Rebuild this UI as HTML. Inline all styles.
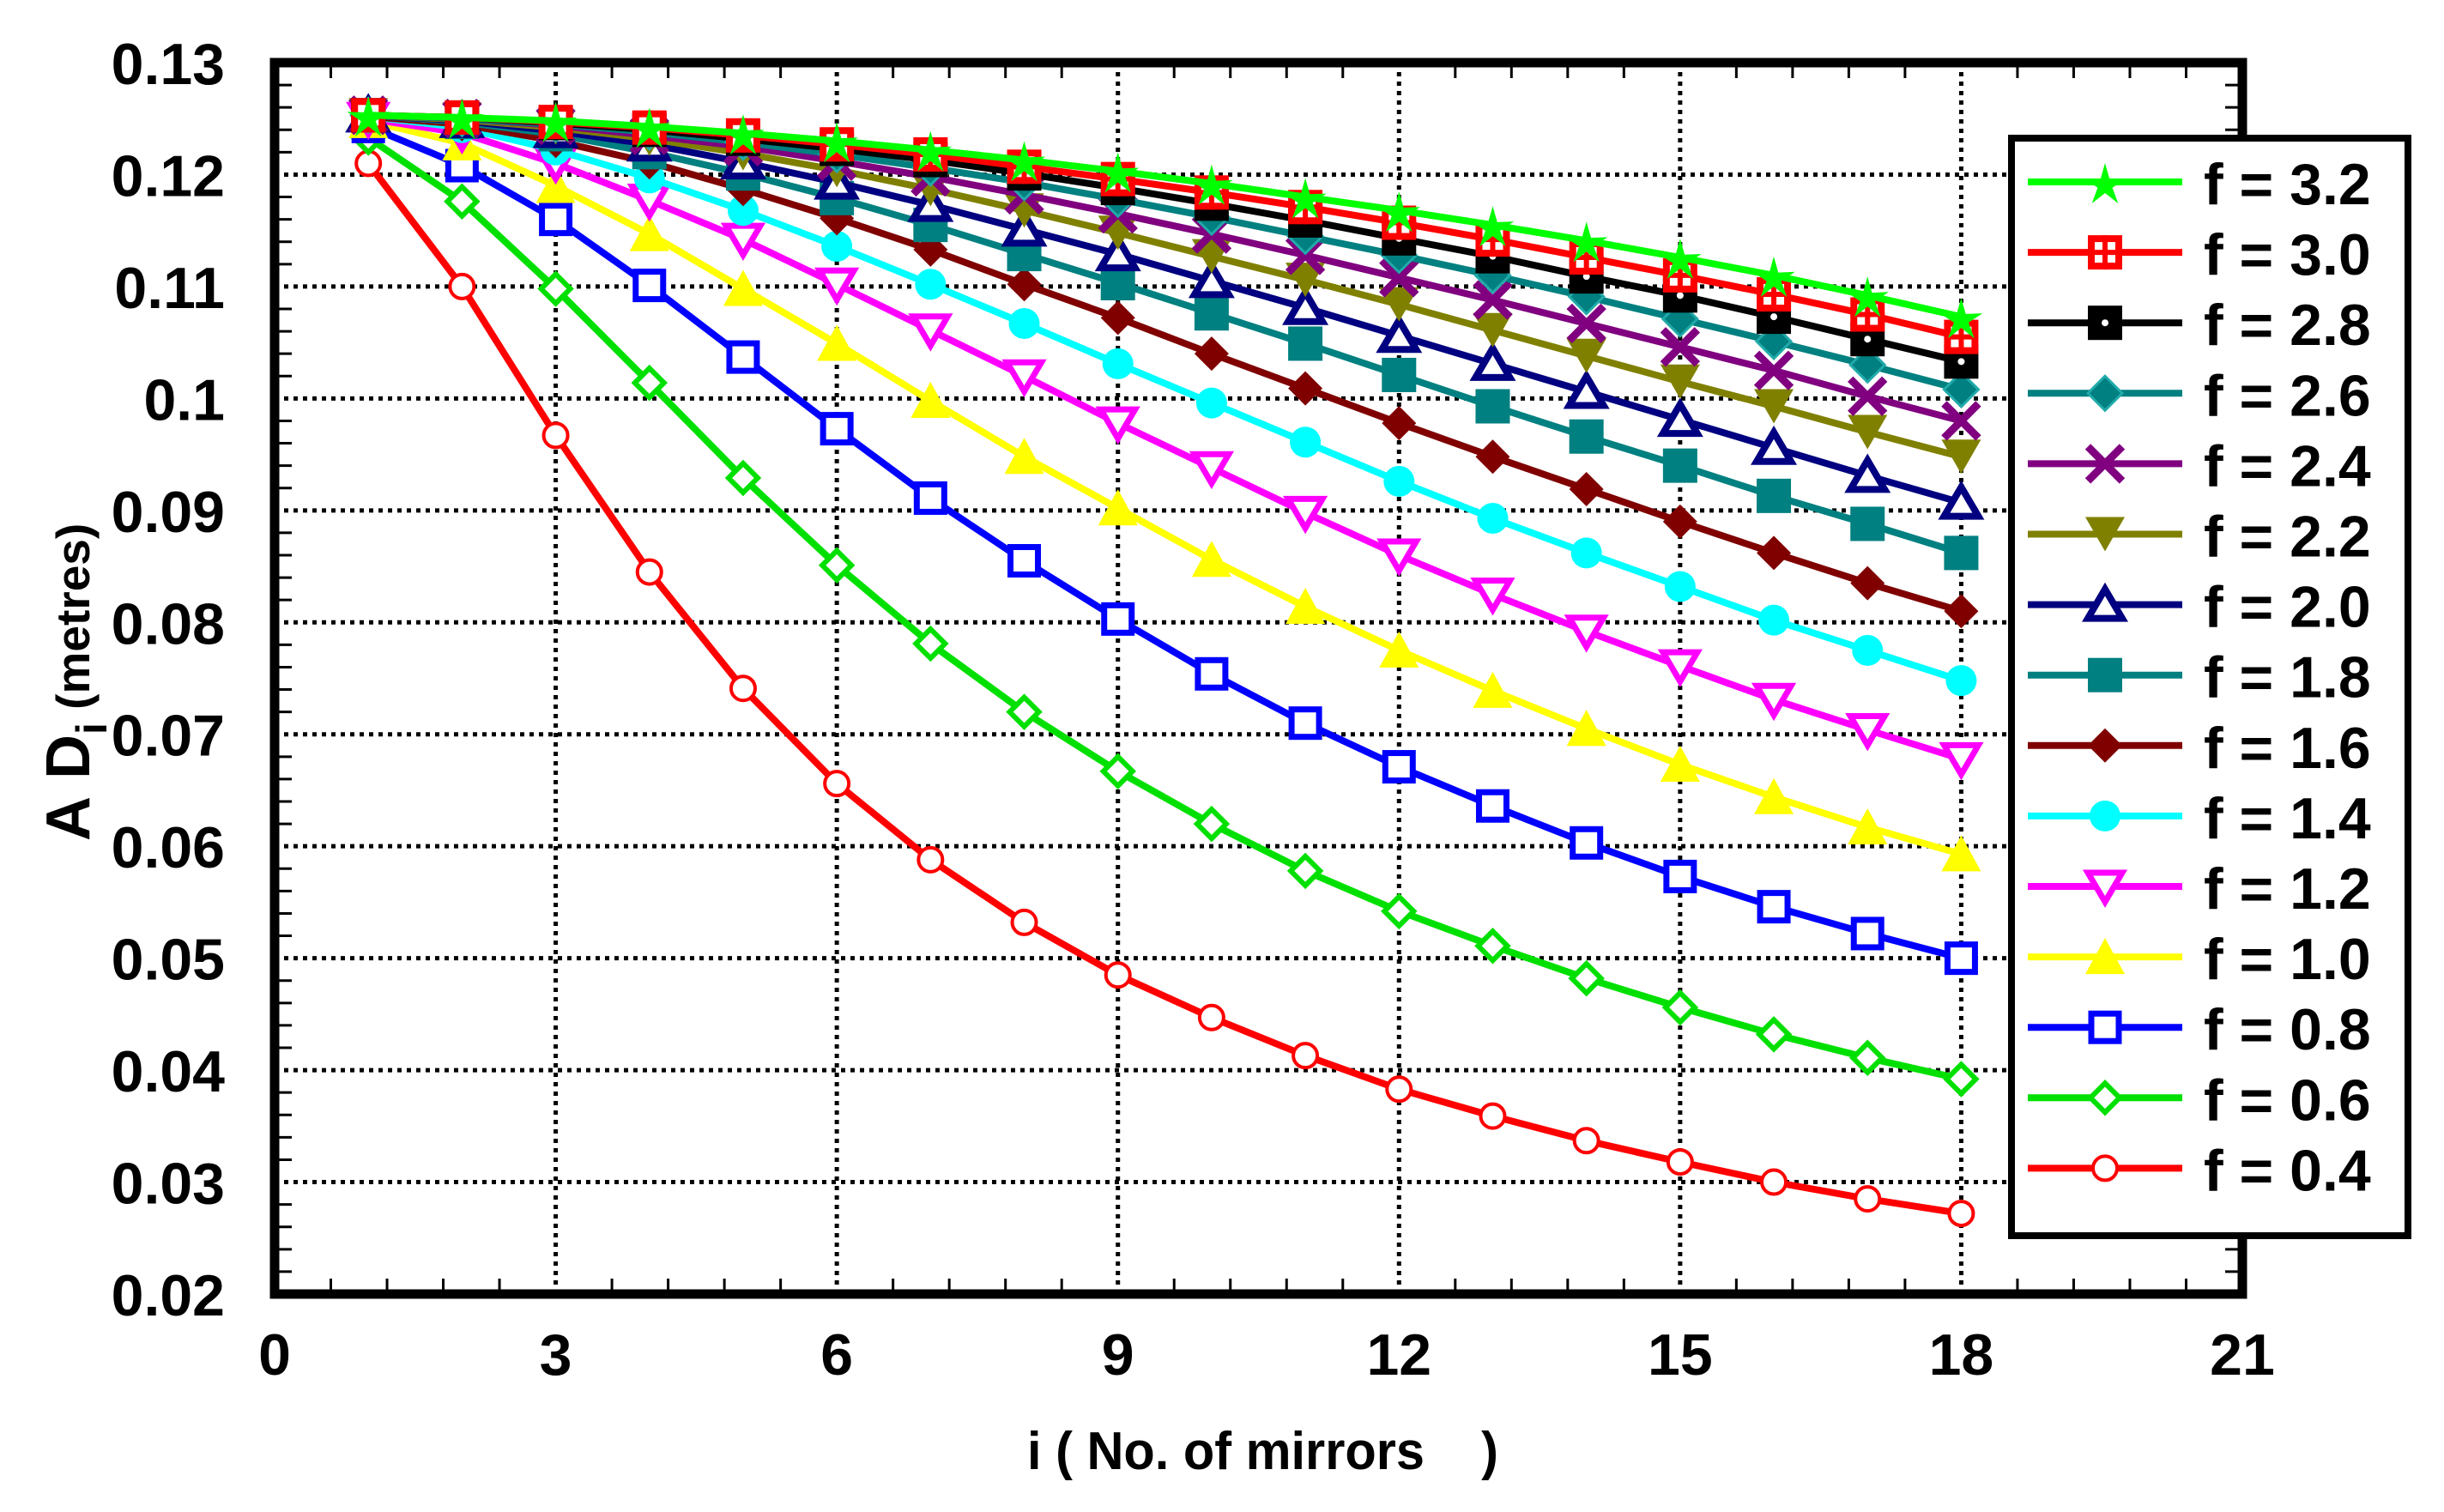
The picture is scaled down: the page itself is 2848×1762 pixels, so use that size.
<!DOCTYPE html>
<html><head><meta charset="utf-8"><style>
html,body{margin:0;padding:0;background:#fff}
svg{display:block;font-family:"Liberation Sans",Arial,sans-serif;font-weight:bold}
</style></head><body>
<svg id="chart" width="2848" height="1762" viewBox="0 0 2848 1762" xmlns="http://www.w3.org/2000/svg">
<g id="grid"></g>
<g id="series"></g>
<rect x="320" y="73" width="2293" height="1435" fill="none" stroke="#000" stroke-width="11"/>
<g id="axes"></g>
<text x="1197" y="1712" font-size="62" textLength="549" lengthAdjust="spacingAndGlyphs">i ( No. of mirrors&#160;&#160;&#160;&#160;)</text>
<text transform="translate(104,980) rotate(-90)" font-size="72">A&#160;D<tspan font-size="50" dy="20">i</tspan><tspan font-size="55" dy="-20"> (metres)</tspan></text>
<g id="legend">
<rect x="2344" y="161" width="462" height="1279" fill="#fff" stroke="#000" stroke-width="8"/>
</g>
</svg>
<script>
const xs = [1,2,3,4,5,6,7,8,9,10,11,12,13,14,15,16,17,18];
const labels = ["f = 3.2","f = 3.0","f = 2.8","f = 2.6","f = 2.4","f = 2.2","f = 2.0","f = 1.8","f = 1.6","f = 1.4","f = 1.2","f = 1.0","f = 0.8","f = 0.6","f = 0.4"];
const colors = ["#00ff00","#ff0000","#000000","#008080","#800080","#808000","#000080","#008080","#800000","#00ffff","#ff00ff","#ffff00","#0000ff","#00e000","#ff0000"];
const markers = ["star","sqplus","sqdot","diamondsm","x","tridown","triopen","sqfill","diamond","circle","tridownopen","tri","sqopen","diamondopen","circleopen"];
const f32 = [0.1253,0.1251,0.1248,0.1243,0.1237,0.1230,0.1222,0.1213,0.1203,0.1192,0.1180,0.1168,0.1155,0.1141,0.1126,0.1110,0.1092,0.1073];
const f30 = [0.1253,0.1251,0.1247,0.1242,0.1235,0.1227,0.1218,0.1207,0.1196,0.1184,0.1171,0.1157,0.1142,0.1126,0.1110,0.1093,0.1075,0.1055];
const f28 = [0.1253,0.1251,0.1246,0.1240,0.1232,0.1223,0.1213,0.1201,0.1188,0.1174,0.1159,0.1143,0.1127,0.1109,0.1092,0.1073,0.1053,0.1033];
const f26 = [0.1253,0.1250,0.1245,0.1238,0.1229,0.1218,0.1206,0.1193,0.1178,0.1162,0.1145,0.1128,0.1110,0.1091,0.1071,0.1051,0.1030,0.1008];
const f24 = [0.1253,0.1250,0.1244,0.1235,0.1225,0.1212,0.1198,0.1182,0.1165,0.1147,0.1128,0.1108,0.1088,0.1067,0.1046,0.1025,0.1002,0.0980];
const f22 = [0.1253,0.1249,0.1242,0.1232,0.1219,0.1204,0.1187,0.1168,0.1148,0.1127,0.1106,0.1084,0.1061,0.1038,0.1015,0.0993,0.0970,0.0948];
const f20 = [0.1253,0.1248,0.1239,0.1227,0.1211,0.1193,0.1173,0.1151,0.1129,0.1105,0.1081,0.1056,0.1031,0.1006,0.0981,0.0956,0.0931,0.0907];
const f18 = [0.1253,0.1247,0.1236,0.1220,0.1201,0.1179,0.1155,0.1129,0.1103,0.1076,0.1049,0.1021,0.0993,0.0966,0.0940,0.0913,0.0888,0.0862];
const f16 = [0.1252,0.1245,0.1230,0.1211,0.1187,0.1161,0.1133,0.1102,0.1072,0.1040,0.1009,0.0978,0.0948,0.0919,0.0890,0.0862,0.0835,0.0810];
const f14 = [0.1252,0.1242,0.1222,0.1197,0.1168,0.1136,0.1102,0.1067,0.1031,0.0996,0.0961,0.0926,0.0893,0.0862,0.0832,0.0802,0.0775,0.0748];
const f12 = [0.1250,0.1237,0.1210,0.1177,0.1142,0.1102,0.1061,0.1020,0.0978,0.0938,0.0898,0.0860,0.0825,0.0792,0.0761,0.0731,0.0704,0.0678];
const f10 = [0.1248,0.1228,0.1190,0.1147,0.1098,0.1049,0.0998,0.0948,0.0902,0.0856,0.0814,0.0775,0.0739,0.0705,0.0673,0.0644,0.0617,0.0593];
const f08 = [0.1243,0.1208,0.1160,0.1101,0.1037,0.0973,0.0911,0.0855,0.0803,0.0754,0.0710,0.0671,0.0636,0.0603,0.0573,0.0546,0.0522,0.0500];
const f06 = [0.1233,0.1176,0.1098,0.1014,0.0929,0.0851,0.0781,0.0720,0.0667,0.0620,0.0578,0.0542,0.0511,0.0482,0.0456,0.0432,0.0411,0.0392];
const f04 = [0.1210,0.1100,0.0967,0.0845,0.0741,0.0656,0.0588,0.0532,0.0485,0.0447,0.0413,0.0383,0.0359,0.0337,0.0318,0.0300,0.0285,0.0272];
const seriesData = [f32,f30,f28,f26,f24,f22,f20,f18,f16,f14,f12,f10,f08,f06,f04];
const xTicks = [0,3,6,9,12,15,18,21];
const yTicks = [0.02,0.03,0.04,0.05,0.06,0.07,0.08,0.09,0.10,0.11,0.12,0.13];
const yTickLabels = ["0.02","0.03","0.04","0.05","0.06","0.07","0.08","0.09","0.1","0.11","0.12","0.13"];

const L=320,R=2613,T=73,B=1508;
const xS = v => L + (v-0)/(21-0)*(R-L);
const yS = v => B - (v-0.02)/(0.13-0.02)*(B-T);
const NS="http://www.w3.org/2000/svg";
function mk(tag, attrs, parent){const e=document.createElementNS(NS,tag);for(const k in attrs)e.setAttribute(k,attrs[k]);parent.appendChild(e);return e;}

const grid=document.getElementById('grid'), axes=document.getElementById('axes');
xTicks.forEach(t=>{
  if(t>0&&t<21){const g=mk('line',{x1:xS(t),x2:xS(t),y1:T,y2:B,stroke:'#000','stroke-width':5,'stroke-dasharray':'5 6'},grid);
  
  }
  const tx=mk('text',{x:xS(t),y:1602,'font-size':68,'text-anchor':'middle'},axes);
  tx.textContent=t;
  
  
});
for(let k=1;k<35;k++){
  if(k%5===0) continue;
  const x=xS(k*0.6);
  mk('line',{x1:x,x2:x,y1:B,y2:B-18,stroke:'#000','stroke-width':3},axes);
  mk('line',{x1:x,x2:x,y1:T,y2:T+18,stroke:'#000','stroke-width':3},axes);
}
for(let k=1;k<55;k++){
  if(k%5===0) continue;
  const y=yS(0.02+k*0.002);
  mk('line',{x1:L,x2:L+20,y1:y,y2:y,stroke:'#000','stroke-width':3},axes);
  mk('line',{x1:R,x2:R-20,y1:y,y2:y,stroke:'#000','stroke-width':3},axes);
}
yTicks.forEach((t,i)=>{
  if(i>0&&i<yTicks.length-1){const g=mk('line',{x1:L,x2:R,y1:yS(t),y2:yS(t),stroke:'#000','stroke-width':5,'stroke-dasharray':'5 6'},grid);
  
  }
  const tx=mk('text',{x:262,y:yS(t)+25,'font-size':68,'text-anchor':'end'},axes);
  tx.textContent=yTickLabels[i];
  
  
});

function marker(type,c,x,y,parent){
  const s=20;
  switch(type){
    case 'star':{let p=[];for(let k=0;k<10;k++){const r=k%2?s*0.45:s*1.3;const a=-Math.PI/2+k*Math.PI/5;p.push((x+r*Math.cos(a)).toFixed(1)+','+(y+r*Math.sin(a)+4).toFixed(1));}
      return mk('polygon',{points:p.join(' '),fill:c},parent);}
    case 'sqplus':{const g=mk('g',{},parent);mk('rect',{x:x-s+4,y:y-s+4,width:2*s-8,height:2*s-8,fill:'#fff',stroke:c,'stroke-width':8},g);
      mk('line',{x1:x,x2:x,y1:y-s,y2:y+s,stroke:c,'stroke-width':6},g);mk('line',{x1:x-s,x2:x+s,y1:y,y2:y,stroke:c,'stroke-width':6},g);return g;}
    case 'sqdot':{const g=mk('g',{},parent);mk('rect',{x:x-s,y:y-s,width:2*s,height:2*s,fill:c},g);mk('circle',{cx:x,cy:y,r:4,fill:'#fff'},g);return g;}
    case 'diamondsm':return mk('polygon',{points:`${x},${y-s} ${x+s},${y} ${x},${y+s} ${x-s},${y}`,fill:c,stroke:'#2aa',"stroke-width":3},parent);
    case 'x':{const g=mk('g',{},parent);mk('line',{x1:x-s,y1:y-s,x2:x+s,y2:y+s,stroke:c,'stroke-width':9},g);mk('line',{x1:x-s,y1:y+s,x2:x+s,y2:y-s,stroke:c,'stroke-width':9},g);return g;}
    case 'tridown':return mk('polygon',{points:`${x-s*1.15},${y-s} ${x+s*1.15},${y-s} ${x},${y+s}`,fill:c},parent);
    case 'tridownopen':return mk('polygon',{points:`${x-s},${y-s+4} ${x+s},${y-s+4} ${x},${y+s-2}`,fill:'#fff',stroke:c,'stroke-width':7},parent);
    case 'triopen':return mk('polygon',{points:`${x},${y-s+2} ${x+s},${y+s-4} ${x-s},${y+s-4}`,fill:'#fff',stroke:c,'stroke-width':8},parent);
    case 'tri':return mk('polygon',{points:`${x},${y-s-2} ${x+s*1.15},${y+s} ${x-s*1.15},${y+s}`,fill:c},parent);
    case 'sqfill':return mk('rect',{x:x-s,y:y-s,width:2*s,height:2*s,fill:c},parent);
    case 'sqopen':return mk('rect',{x:x-s+4,y:y-s+4,width:2*s-8,height:2*s-8,fill:'#fff',stroke:c,'stroke-width':7},parent);
    case 'diamond':return mk('polygon',{points:`${x},${y-s} ${x+s},${y} ${x},${y+s} ${x-s},${y}`,fill:c},parent);
    case 'diamondopen':return mk('polygon',{points:`${x},${y-s+3} ${x+s-3},${y} ${x},${y+s-3} ${x-s+3},${y}`,fill:'#fff',stroke:c,'stroke-width':6},parent);
    case 'circle':return mk('circle',{cx:x,cy:y,r:s-2,fill:c},parent);
    case 'circleopen':return mk('circle',{cx:x,cy:y,r:s-6,fill:'#fff',stroke:c,'stroke-width':4},parent);
  }
}

const sg=document.getElementById('series');
for(let k=seriesData.length-1;k>=0;k--){
  const g=mk('g',{},sg);
  
  
  const pts=seriesData[k].map((v,i)=>xS(xs[i]).toFixed(1)+','+yS(v).toFixed(1)).join(' ');
  const ln=mk('polyline',{points:pts,fill:'none',stroke:colors[k],'stroke-width':8,'stroke-linejoin':'round'},g);
  
  
  seriesData[k].forEach((v,i)=>{
    const m=marker(markers[k],colors[k],xS(xs[i]),yS(v),g);
    
    
  });
}

const lg=document.getElementById('legend');
labels.forEach((lab,k)=>{
  const y=212+k*82.1;
  const g=mk('g',{},lg);
  
  
  mk('line',{x1:2363,x2:2543,y1:y,y2:y,stroke:colors[k],'stroke-width':8},g);
  marker(markers[k],colors[k],2453,y,g);
  const t=mk('text',{x:2568,y:y+26,'font-size':68},g);
  t.textContent=lab;
});
</script>
</body></html>
